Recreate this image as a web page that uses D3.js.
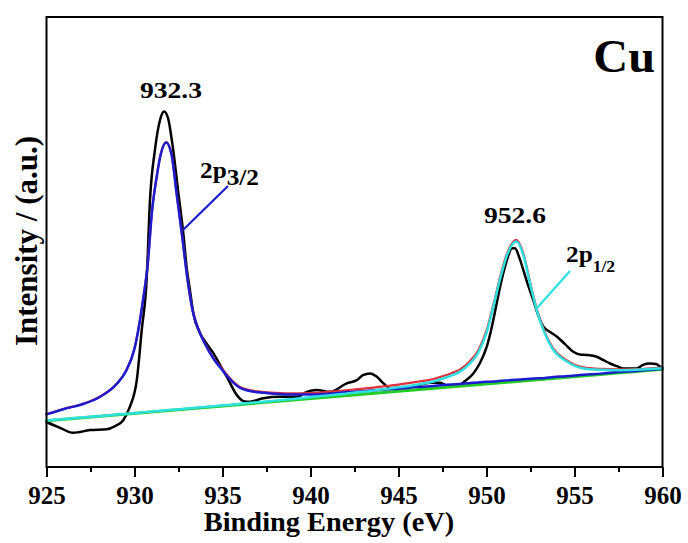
<!DOCTYPE html>
<meta charset="utf-8">
<style>
body { margin: 0; background: #fff; }
svg text { font-family: "Liberation Serif", "Times New Roman", serif; font-weight: bold; fill: #000; }
.frame { fill: none; stroke: #000; stroke-width: 2px; }
.axis path, .axis line { stroke: #000; stroke-width: 2px; }
.axis text { font-size: 25px; font-family: "Liberation Serif", serif; font-weight: bold; }
.curve { fill: none; stroke-linejoin: round; stroke-linecap: round; }
</style>
<svg width="688" height="543"></svg>
<script src="https://d3js.org/d3.v7.min.js"></script>
<script>

// measured spectrum (black)
var rawE = [925, 925.77, 926.52, 927.47, 928.42, 928.9, 929.36, 929.74, 930.13, 930.41, 930.69, 930.88, 931.16, 931.45, 931.68, 931.9,
  932.2, 932.47, 932.77, 932.98, 933.15, 933.34, 933.72, 934.06, 934.48, 934.86, 935.24, 935.81, 936.16, 936.56, 937.32, 938.27,
  939.22, 939.78, 940.35, 941.11, 942.06, 942.63, 942.98, 943.38, 943.76, 944.12, 944.52, 945.09, 945.94, 946.79, 947.36, 947.81,
  948.3, 948.78, 949.25, 949.63, 950.01, 950.26, 950.58, 950.82, 951.05, 951.25, 951.43, 951.62, 951.85, 952.09, 952.36, 952.66,
  952.93, 953.23, 953.61, 953.99, 954.46, 954.93, 955.31, 955.69, 956.26, 956.62, 957.02, 957.41, 957.77, 958.15, 958.53, 958.89,
  959.29, 959.63, 959.86, 960];
var rawI = [10.0, 8.7, 7.6, 8.2, 8.4, 9.1, 10.4, 13.4, 19.3, 30.4, 41.6, 59.3, 70.4, 77.1, 79.0, 77.6,
  70.4, 61.6, 52.0, 43.8, 39.3, 34.2, 29.8, 27.6, 25.3, 22.7, 20.1, 16.0, 14.7, 14.5, 15.3, 15.6,
  15.6, 16.7, 17.1, 16.7, 18.6, 19.3, 20.4, 20.8, 20.1, 18.7, 17.5, 17.6, 18.0, 18.7, 18.7, 18.0,
  18.0, 19.1, 20.8, 23.1, 26.7, 30.4, 36.4, 40.9, 44.5, 47.1, 48.6, 48.6, 46.7, 43.8, 40.4, 37.1,
  33.8, 31.2, 30.0, 29.0, 27.3, 25.6, 25.0, 24.9, 24.5, 23.8, 23.0, 22.4, 21.9, 21.9, 21.9, 22.7,
  23.0, 22.9, 22.3, 22.0];

// fitted curves, read on one energy grid
var fitE = [925, 926, 927, 928, 929, 929.5, 930, 930.5, 930.75, 931, 931.25, 931.5, 931.8, 932.1, 932.4, 932.7,
  933, 933.3, 933.6, 934, 934.5, 935, 935.5, 936, 937, 938, 939, 940, 941, 942, 943, 944, 945, 946, 947, 947.5,
  948, 948.5, 949, 949.5, 950, 950.4, 950.8, 951.2, 951.7, 952.1, 952.5, 952.9, 953.3, 953.8, 954.5, 955.5,
  956.5, 957.5, 958.5, 960];
var p32 = [11.7, 12.9, 13.9, 15.5, 18.5, 21.2, 26.3, 37.5, 45.0, 57.0, 64.2, 69.6, 72.1, 69.5, 60.5, 51.5,
  42.0, 34.8, 30.9, 27.4, 24.0, 21.5, 19.2, 17.6, 16.6, 16.3, 16.1, 16.1, 16.3, 16.6, 16.85, 17.15, 17.4, 17.75, 18.0, 18.2,
  18.35, 18.45, 18.6, 18.8, 18.95, 19.0, 19.15, 19.25, 19.4, 19.5, 19.6, 19.7, 19.8, 20.0, 20.15, 20.5,
  20.75, 21.1, 21.35, 21.85];
var p12 = [10.35, 10.65, 11.0, 11.3, 11.65, 11.8, 12.0, 12.15, 12.25, 12.3, 12.4, 12.5, 12.6, 12.7, 12.8, 12.9,
  13.0, 13.1, 13.2, 13.35, 13.5, 13.7, 13.85, 14.05, 14.4, 14.75, 15.1, 15.5, 15.9, 16.3, 16.7, 17.2, 17.7, 18.3, 19.0, 19.6,
  20.3, 21.2, 22.8, 25.2, 29.8, 35.8, 42.2, 47.4, 50.1, 47.0, 40.3, 34.2, 29.8, 26.0, 23.6, 21.9,
  21.6, 21.5, 21.6, 21.95];
var envelope = [11.75, 12.95, 13.95, 15.55, 18.55, 21.25, 26.35, 37.6, 45.1, 57.1, 64.3, 69.7, 72.2, 69.6, 60.6, 51.6,
  42.1, 34.9, 31.0, 27.5, 24.15, 21.7, 19.4, 17.8, 16.8, 16.5, 16.35, 16.4, 16.7, 17.05, 17.4, 17.85, 18.3, 18.9, 19.55, 20.15,
  20.85, 21.7, 23.3, 25.7, 30.3, 36.2, 42.65, 47.8, 50.5, 47.4, 40.65, 34.5, 30.1, 26.3, 23.85, 22.15,
  21.8, 21.7, 21.75, 22.1];
var baseE = [925, 960];
var baseI = [10.3, 21.7];

var majorTicks = [925, 930, 935, 940, 945, 950, 955, 960];
var minorTicks = [927.5, 932.5, 937.5, 942.5, 947.5, 952.5, 957.5];

var svg = d3.select("svg");
var x0 = 46.5, x1 = 662.5, yTop = 17, yBot = 467;

var x = d3.scaleLinear().domain([925, 960]).range([x0, x1]);
var y = d3.scaleLinear().domain([0, 100]).range([yBot, yTop]);

function pts(es, is) { return es.map(function(e, i) { return [e, is[i]]; }); }

var line = d3.line()
    .x(function(d) { return x(d[0]); })
    .y(function(d) { return y(d[1]); })
    .curve(d3.curveMonotoneX);

var series = [
  {d: pts(rawE, rawI), c: "#000000", w: 2.5},
  {d: pts(baseE, baseI), c: "#22cc22", w: 3},
  {d: pts(fitE, envelope), c: "#e0303a", w: 2.2},
  {d: pts(fitE, p32), c: "#1c1ccf", w: 2.5},
  {d: pts(fitE, p12), c: "#2ee0e0", w: 2.5}
];

svg.append("g").selectAll("path")
    .data(series)
  .enter().append("path")
    .attr("class", "curve")
    .attr("d", function(s) { return line(s.d); })
    .attr("stroke", function(s) { return s.c; })
    .attr("stroke-width", function(s) { return s.w; });

// frame
svg.append("rect")
    .attr("class", "frame")
    .attr("x", x0).attr("y", yTop)
    .attr("width", x1 - x0).attr("height", yBot - yTop);

// bottom axis, ticks outward
var ax = svg.append("g")
    .attr("class", "axis")
    .attr("transform", "translate(0," + yBot + ")")
    .call(d3.axisBottom(x).tickValues(majorTicks).tickSize(10).tickPadding(8).tickFormat(d3.format("d")));
ax.select(".domain").remove();
ax.selectAll(".tick text").attr("dy", "0.75em");

svg.append("g")
    .attr("class", "axis")
    .attr("transform", "translate(0," + yBot + ")")
    .call(d3.axisBottom(x).tickValues(minorTicks).tickSize(5).tickFormat(""))
    .select(".domain").remove();

// text helper: the original lettering is a bit wider than the font
function label(px, py, size, sx, anchor) {
  return svg.append("text")
      .attr("transform", "translate(" + px + "," + py + ") scale(" + sx + ",1)")
      .attr("text-anchor", anchor)
      .style("font-size", size + "px");
}

label(329, 531, 27, 1.05, "middle").text("Binding Energy (eV)");

svg.append("text")
    .attr("transform", "translate(37,241) rotate(-90)")
    .attr("text-anchor", "middle")
    .style("font-size", "31px")
    .text("Intensity / (a.u.)");

label(655, 72, 46, 1.05, "end").text("Cu");
label(171, 98, 24, 1.15, "middle").text("932.3");
label(515, 223, 24, 1.15, "middle").text("952.6");

svg.append("line")
    .attr("x1", 183).attr("y1", 230).attr("x2", 228).attr("y2", 186)
    .attr("stroke", "#1c1ccf").attr("stroke-width", 2.2);
var t1 = label(200, 178, 23, 1.1, "start");
t1.append("tspan").text("2p");
t1.append("tspan").attr("dy", 7).style("font-size", "23px").text("3/2");

svg.append("line")
    .attr("x1", 537).attr("y1", 308).attr("x2", 570).attr("y2", 271)
    .attr("stroke", "#2ee0e0").attr("stroke-width", 2.2);
var t2 = label(566, 262, 23, 1.1, "start");
t2.append("tspan").text("2p");
t2.append("tspan").attr("dy", 10).style("font-size", "16px").text("1/2");

</script>
